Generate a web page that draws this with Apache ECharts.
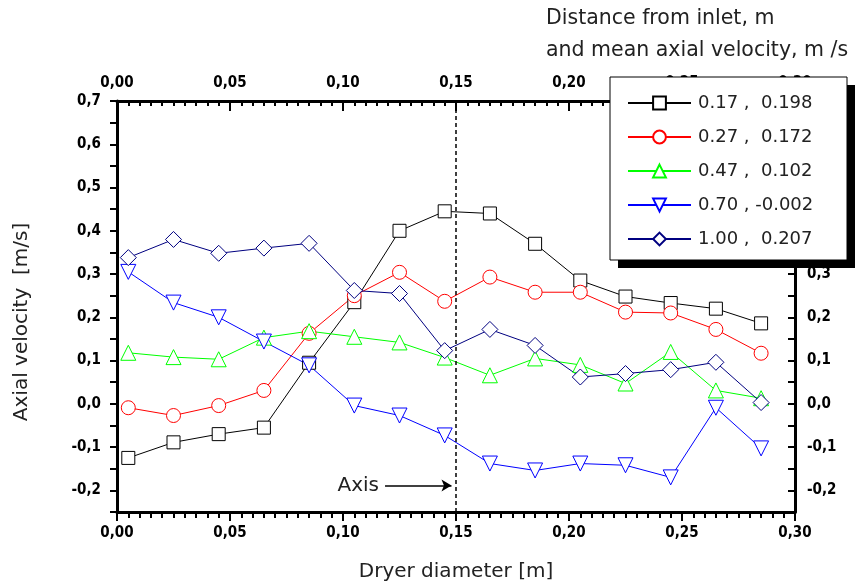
<!DOCTYPE html>
<html>
<head>
<meta charset="utf-8">
<script src="https://cdn.jsdelivr.net/npm/echarts@6/dist/echarts.min.js"></script>
<style>
  html, body { margin: 0; padding: 0; background: #fff; }
  #chart { width: 861px; height: 584px; }
</style>
</head>
<body>
<div id="chart"></div>
<script>
// radial positions across the dryer (m)
const diameter = [0.005, 0.025, 0.045, 0.065, 0.085, 0.105, 0.125, 0.145, 0.165, 0.185, 0.205, 0.225, 0.245, 0.265, 0.285]

// axial velocity (m/s) at each distance from inlet
const vel017 = [-0.125, -0.089, -0.07, -0.055, 0.095, 0.235, 0.4, 0.445, 0.44, 0.37, 0.285, 0.248, 0.233, 0.22, 0.186]
const vel027 = [-0.009, -0.027, -0.004, 0.031, 0.163, 0.25, 0.304, 0.237, 0.293, 0.258, 0.258, 0.212, 0.21, 0.172, 0.117]
const vel047 = [0.118, 0.108, 0.103, 0.153, 0.168, 0.155, 0.142, 0.107, 0.066, 0.105, 0.09, 0.047, 0.12, 0.031, 0.013]
const vel070 = [0.305, 0.234, 0.2, 0.144, 0.089, -0.004, -0.027, -0.073, -0.138, -0.154, -0.138, -0.142, -0.17, -0.009, -0.103]
const vel100 = [0.338, 0.38, 0.348, 0.36, 0.371, 0.262, 0.255, 0.123, 0.172, 0.135, 0.062, 0.07, 0.079, 0.096, 0.003]

const seriesNames = ['0.17 ,  0.198', '0.27 ,  0.172', '0.47 ,  0.102', '0.70 , -0.002', '1.00 ,  0.207']

// dryer axis marker
const axisPos = 0.151
const arrowStart = [0.1186, -0.189]
const arrowEnd = [0.148, -0.189]

const FONT = 'DejaVu Sans'

const chart = echarts.init(document.getElementById('chart'))

const commaFmt = (digits) => (v) => v.toFixed(digits).replace('.', ',')

const yFmt = (v) => {
  const k = Math.round(v * 100)
  if (k % 10 !== 0) return ''
  return (k / 100).toFixed(1).replace('.', ',')
}

const tickLabel = {
  fontFamily: '"DejaVu Sans Condensed", "DejaVu Sans"',
  fontWeight: 'bold',
  fontSize: 15,
  color: '#000'
}

const makeSeries = (name, vals, color, symbol, size, rotate) => ({
  name,
  type: 'line',
  data: diameter.map((x, i) => [x, vals[i]]),
  symbol,
  symbolSize: size,
  symbolRotate: rotate || 0,
  showAllSymbol: true,
  lineStyle: { color, width: 1 },
  itemStyle: { color: '#fff', borderColor: color, borderWidth: 1 },
  emphasis: { disabled: true },
  animation: false
})

const series = [
  makeSeries(seriesNames[0], vel017, '#000000', 'rect', 13),
  makeSeries(seriesNames[1], vel027, '#ff0000', 'circle', 14),
  makeSeries(seriesNames[2], vel047, '#00ff00', 'triangle', 15),
  makeSeries(seriesNames[3], vel070, '#0000ff', 'triangle', 15, 180),
  makeSeries(seriesNames[4], vel100, '#000080', 'diamond', 16)
]

series[0].markLine = {
  silent: true,
  animation: false,
  symbol: ['none', 'none'],
  data: [
    {
      xAxis: axisPos,
      lineStyle: { color: '#000', width: 1.5, type: [4, 3] },
      label: { show: false }
    },
    [
      { coord: arrowStart, symbol: 'none' },
      {
        coord: arrowEnd,
        symbol: 'arrow',
        symbolSize: [9, 10],
        lineStyle: { color: '#000', width: 1.5, type: 'solid' },
        label: {
          show: true,
          position: 'start',
          formatter: 'Axis',
          distance: 6,
          fontFamily: FONT,
          fontSize: 20,
          color: '#222'
        }
      }
    ]
  ]
}

const option = {
  backgroundColor: '#fff',
  grid: {
    left: 117,
    right: 66,
    top: 101,
    bottom: 72,
    outerBoundsMode: 'none'
  },
  legend: {
    orient: 'vertical',
    left: 627,
    top: 94,
    padding: 0,
    itemWidth: 63,
    itemHeight: 16,
    itemGap: 16,
    selectedMode: false,
    z: 5,
    textStyle: {
      fontFamily: FONT,
      fontSize: 18,
      color: '#222',
      padding: [0, 0, 0, 2]
    },
    data: seriesNames
  },
  graphic: [
    {
      type: 'rect',
      z: 3,
      shape: { x: 618, y: 85, width: 237, height: 183 },
      style: { fill: '#000' }
    },
    {
      type: 'rect',
      z: 3,
      shape: { x: 610, y: 77, width: 237, height: 183 },
      style: { fill: '#fff', stroke: '#000', lineWidth: 1 }
    },
    {
      type: 'text',
      x: 546,
      y: 19,
      style: {
        text: 'Distance from inlet, m',
        fontFamily: FONT,
        fontSize: 20.5,
        fill: '#222',
        verticalAlign: 'middle'
      }
    },
    {
      type: 'text',
      x: 546,
      y: 51,
      style: {
        text: 'and mean axial velocity, m /s',
        fontFamily: FONT,
        fontSize: 20.5,
        fill: '#222',
        verticalAlign: 'middle'
      }
    },
    {
      type: 'text',
      x: 22,
      y: 322,
      rotation: Math.PI / 2,
      style: {
        text: 'Axial velocity  [m/s]',
        fontFamily: FONT,
        fontSize: 20,
        fill: '#222',
        align: 'center',
        verticalAlign: 'middle'
      }
    }
  ],
  xAxis: [
    {
      type: 'value',
      position: 'bottom',
      min: 0,
      max: 0.3,
      interval: 0.05,
      axisLine: { onZero: false, lineStyle: { color: '#000', width: 3 } },
      axisTick: { inside: false, length: 9, lineStyle: { color: '#000', width: 2 } },
      minorTick: { show: true, splitNumber: 10, length: 6, lineStyle: { color: '#000', width: 2 } },
      splitLine: { show: false },
      axisLabel: { ...tickLabel, margin: 14, formatter: commaFmt(2) },
      name: 'Dryer diameter [m]',
      nameLocation: 'middle',
      nameGap: 50,
      nameTextStyle: { fontFamily: FONT, fontSize: 20, color: '#222' }
    },
    {
      type: 'value',
      position: 'top',
      min: 0,
      max: 0.3,
      interval: 0.05,
      axisLine: { onZero: false, lineStyle: { color: '#000', width: 3 } },
      axisTick: { inside: true, length: 10, lineStyle: { color: '#000', width: 2 } },
      minorTick: { show: true, splitNumber: 10, length: 5, lineStyle: { color: '#000', width: 2 } },
      splitLine: { show: false },
      axisLabel: { ...tickLabel, margin: 10, formatter: commaFmt(2) }
    }
  ],
  yAxis: [
    {
      type: 'value',
      position: 'left',
      min: -0.25,
      max: 0.7,
      interval: 0.05,
      axisLine: { onZero: false, lineStyle: { color: '#000', width: 3 } },
      axisTick: { inside: false, length: 7, lineStyle: { color: '#000', width: 2 } },
      splitLine: { show: false },
      axisLabel: { ...tickLabel, margin: 16, formatter: yFmt }
    },
    {
      type: 'value',
      position: 'right',
      min: -0.25,
      max: 0.7,
      interval: 0.05,
      axisLine: { onZero: false, lineStyle: { color: '#000', width: 3 } },
      axisTick: { inside: true, length: 7, lineStyle: { color: '#000', width: 2 } },
      splitLine: { show: false },
      axisLabel: { ...tickLabel, margin: 12, formatter: yFmt }
    }
  ],
  series
}

chart.setOption(option)
</script>
</body>
</html>
